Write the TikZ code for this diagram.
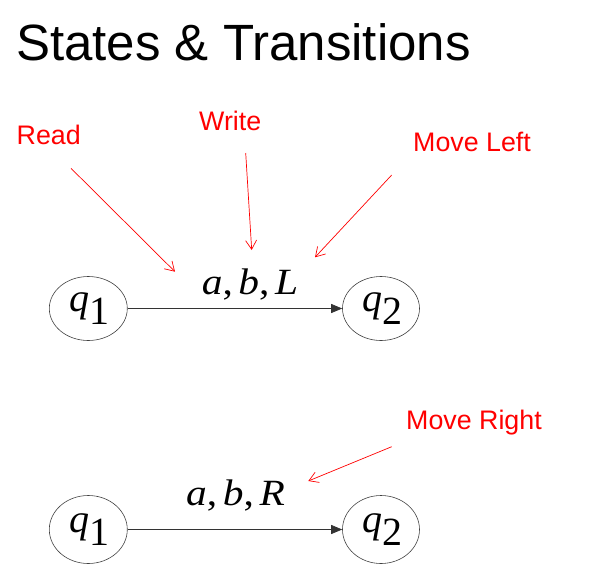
\documentclass[tikz,border=0pt]{standalone}
\usepackage{fontspec}
\setmainfont{Liberation Sans}
\newfontfamily\tmsfont{Liberation Serif}
\usetikzlibrary{shapes.geometric,arrows.meta}
\tikzset{
  state/.style={ellipse,draw=black!75,line width=0.6pt,minimum width=78pt,minimum height=66pt,inner sep=0pt,
    font=\tmsfont\fontsize{40}{42}\selectfont},
  trans/.style={draw=black!80,line width=0.7pt,-{Triangle[length=11pt,width=9pt]}},
  tlabel/.style={anchor=base,inner sep=0pt,font=\tmsfont\fontsize{37}{40}\selectfont},
  note/.style={anchor=base west,inner sep=0pt,text=red,font=\fontsize{26.8}{30}\selectfont},
  pointer/.style={draw=red,line width=0.7pt,-{Straight Barb[length=9pt,width=11pt]}},
  title/.style={anchor=base west,inner sep=0pt,font=\fontsize{51}{60}\selectfont}
}
\newcommand{\qsub}[1]{\hspace{3pt}\raisebox{-7pt}{\itshape q\upshape\raisebox{-13pt}{#1}}}
\newcommand{\trip}[3]{\scalebox{1.12}[1]{\itshape #1\upshape,\hspace{5pt}\itshape #2\upshape,\hspace{5pt}\itshape #3}}
\begin{document}
\begin{tikzpicture}[x=1pt,y=-1pt]
\useasboundingbox (0,0) rectangle (595,582);
\node[title] (t) at (16,60) {States \& Transitions};
% first transition
\node[state,minimum height=64pt] (a1) at (88.3,308.5) {\qsub{1}};
\node[state,minimum height=64pt,minimum width=77pt] (a2) at (381,308.5) {\qsub{2}};
\draw[trans] (a1) -- (a2);
\node[tlabel] (l1) at (250,294.3) {\trip{a}{b}{L}};
% notes
\node[note] (rd) at (16.5,144) {Read};
\node[note] (wr) at (199,130.7) {Write};
\node[note] (ml) at (413,151) {Move Left};
\coordinate (rds) at (71,168.3);
\coordinate (rde) at (175,271.7);
\coordinate (wrs) at (245.7,153);
\coordinate (wre) at (251.7,250);
\coordinate (mls) at (391.7,175);
\coordinate (mle) at (315,257.3);
\draw[pointer] (rds) -- (rde);
\draw[pointer] (wrs) -- (wre);
\draw[pointer] (mls) -- (mle);
% second transition
\node[state,minimum height=68pt] (b1) at (88.3,529.5) {\qsub{1}};
\node[state,minimum height=68pt,minimum width=77pt] (b2) at (381,529.5) {\qsub{2}};
\draw[trans] (b1) -- (b2);
\node[tlabel] (l2) at (235.5,505) {\trip{a}{b}{R}};
\node[note] (mr) at (406,429.3) {Move Right};
\coordinate (mrs) at (391.7,446.7);
\coordinate (mre) at (308.3,481);
\draw[pointer] (mrs) -- (mre);
\end{tikzpicture}
\end{document}
